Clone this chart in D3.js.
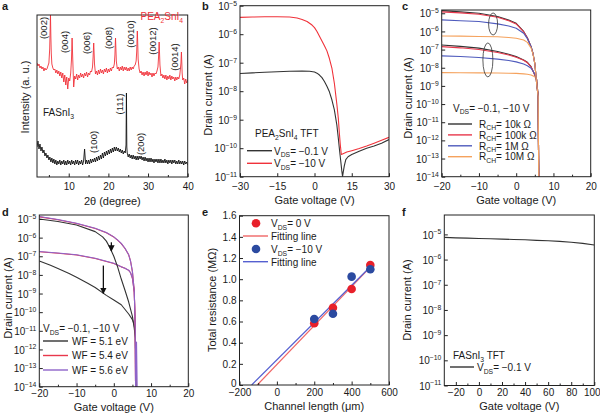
<!DOCTYPE html>
<html><head><meta charset="utf-8">
<script src="https://cdn.jsdelivr.net/npm/d3@7"></script>
<style>
body{margin:0;background:#fff;}
svg{font-family:"Liberation Sans",Arial,sans-serif;}
</style></head><body><svg id="c" width="600" height="413"></svg>
<script>
// ---------------- DATA ----------------
// Panel a: XRD (intensity in arbitrary units), baseline sampled every 0.25 deg from 2 deg
const xrdStart = 2, xrdStep = 0.25;
const redBase = [114,111,113,109,111,108,110,106,109,107,108,111,114,118,117,113,109,107,108,104,107,103,106,101,105,99,104,95,102,92,100,88,99,96,104,110,112,90,101,98,103,97,102,99,104,100,103,99,104,101,105,100,104,102,106,105,110,118,112,103,106,102,107,103,108,104,107,103,108,105,109,104,108,105,109,106,110,109,113,120,114,108,110,106,110,107,111,106,110,107,110,106,109,106,110,107,110,108,111,112,116,122,116,108,104,106,102,105,101,105,102,106,101,105,102,104,100,104,101,104,103,106,110,118,110,101,103,99,102,98,102,97,101,98,102,97,101,98,100,96,100,97,100,98,102,108,106,97,99,93,98,94,97];
const redPeaks = [[5.2,128],[5.3,145],[5.4,162],[5.5,140],[5.6,124],
  [10.7,118],[10.8,132],[10.85,139],[10.95,126],[11.05,114],
  [16.15,120],[16.25,130],[16.3,134],[16.4,124],[16.5,113],
  [21.65,122],[21.75,134],[21.8,139],[21.9,128],[22.0,116],
  [27.15,126],[27.25,140],[27.3,146],[27.4,134],[27.5,118],
  [32.65,120],[32.75,130],[32.8,135],[32.9,124],[33.0,112],
  [38.3,114],[38.38,122],[38.42,125],[38.5,116],[38.6,104]];
const redPeakCenters = [5.4,10.85,16.3,21.8,27.3,32.8,38.42];
const blackBase = [30,36,28,33,26,30,24,27,21,24,19,22,17,20,15,19,14,18,13,17,12,16,13,17,12,16,13,17,12,16,12,17,13,16,12,17,13,16,12,17,13,17,12,16,13,17,12,16,28,13,17,13,17,13,18,14,18,15,19,15,20,16,21,17,22,18,24,19,25,21,26,22,27,23,28,24,29,25,30,26,30,26,29,25,28,24,27,23,26,24,25,24,20,23,19,22,18,22,18,21,17,21,17,21,18,21,17,20,16,20,16,19,15,19,15,19,15,18,14,18,15,18,14,18,14,18,14,17,14,18,14,17,13,17,14,17,13,17,14,17,13,16,13,17,13,16,13,16,12,16,13,15,12];
const blackPeaks = [[24.45,32],[24.55,84],[24.65,30]];
const blackPeakCenters = [24.55];
const peakLabels = ["(002)","(004)","(006)","(008)","(0010)","(0012)","(0014)"];
const peakLabelY = [28,42,43,38,34,41,57];

// Panel b: transfer curves PEA2SnI4 TFT [Vg, Id]
const bLow = [[-30,4.2e-8],[-25,4.4e-8],[-20,4.6e-8],[-15,4.8e-8],[-10,5.0e-8],[-5,5.1e-8],[-2,5.0e-8],[0,4.7e-8],[1,4.3e-8],[2,3.7e-8],[3,3.0e-8],[4,2.2e-8],[5,1.5e-8],[6,9.5e-9],[7,5.0e-9],[8,2.2e-9],[9,6.5e-10],[9.6,2.2e-10],[10,1.0e-10],[10.5,4.0e-11],[11,1.6e-11],[11.3,1.02e-11],[11.6,1.5e-11],[12,2.4e-11],[12.6,4.0e-11],[13.5,5.0e-11],[15,6.0e-11],[18,7.8e-11],[21,1.0e-10],[24,1.2e-10],[27,1.5e-10],[30,2.0e-10]];
const bHigh = [[-30,3.9e-6],[-25,4.0e-6],[-20,4.1e-6],[-15,4.1e-6],[-10,4.0e-6],[-7,3.7e-6],[-5,3.3e-6],[-3,2.8e-6],[-1,2.1e-6],[0,1.7e-6],[1,1.25e-6],[2,8.5e-7],[3,5.8e-7],[4,3.9e-7],[5,2.6e-7],[6,1.4e-7],[7,6.5e-8],[8,1.9e-8],[9,3.5e-9],[9.6,1.1e-9],[10,3.5e-10],[10.4,1.3e-10],[10.8,6.0e-11],[11.5,6.4e-11],[13,7.3e-11],[15,8.2e-11],[18,9.8e-11],[21,1.2e-10],[24,1.5e-10],[27,1.9e-10],[30,2.4e-10]];

// Panel c: simulated curves for channel resistance
const cNames = ["10k","100k","1M","10M"];
const cHigh = [
 [[-20,1.4e-5],[-15,1.2e-5],[-10,1.0e-5],[-5,6.6e-6],[-2,4.2e-6],[0,2.8e-6],[2,1.0e-6],[3,4.5e-7],[4,1.45e-7],[4.5,6.3e-8],[5,1.7e-8],[5.5,1.3e-9],[5.9,2.5e-10],[6.05,5e-15]],
 [[-20,1.2e-5],[-15,1.05e-5],[-10,8.8e-6],[-5,6.0e-6],[-2,3.9e-6],[0,2.6e-6],[2,9.5e-7],[3,4.3e-7],[4,1.4e-7],[4.5,6.1e-8],[5,1.7e-8],[5.5,1.3e-9],[5.9,2.5e-10],[6.05,5e-15]],
 [[-20,4.3e-6],[-15,3.9e-6],[-10,3.5e-6],[-5,2.6e-6],[-2,2.0e-6],[0,1.5e-6],[2,7.9e-7],[3,4.0e-7],[4,1.45e-7],[4.5,6.2e-8],[5,1.7e-8],[5.5,1.3e-9],[5.9,2.5e-10],[6.05,5e-15]],
 [[-20,5.6e-7],[-15,5.5e-7],[-10,5.3e-7],[-5,5.1e-7],[-2,4.6e-7],[0,4.2e-7],[2,3.4e-7],[3,2.5e-7],[4,1.2e-7],[4.5,5.8e-8],[5,1.7e-8],[5.5,1.3e-9],[5.9,2.5e-10],[6.05,5e-15]]];
const cLow = [
 [[-20,1.8e-7],[-15,1.5e-7],[-10,1.2e-7],[-5,7.8e-8],[-2,5.5e-8],[0,4.1e-8],[2,2.7e-8],[3,2.0e-8],[4,1.15e-8],[5,4.0e-9],[5.5,2.1e-9],[5.9,2.5e-10],[6.05,5e-15]],
 [[-20,1.45e-7],[-15,1.25e-7],[-10,1.02e-7],[-5,6.9e-8],[-2,5.0e-8],[0,3.8e-8],[2,2.6e-8],[3,1.9e-8],[4,1.1e-8],[5,4.0e-9],[5.5,2.1e-9],[5.9,2.5e-10],[6.05,5e-15]],
 [[-20,4.5e-8],[-15,4.2e-8],[-10,3.7e-8],[-5,3.0e-8],[-2,2.5e-8],[0,2.1e-8],[2,1.6e-8],[3,1.3e-8],[4,9.3e-9],[5,4.5e-9],[5.5,2.3e-9],[5.9,2.5e-10],[6.05,5e-15]],
 [[-20,5.4e-9],[-15,5.3e-9],[-10,5.2e-9],[-5,5.1e-9],[-2,5.0e-9],[0,4.9e-9],[2,4.6e-9],[3,4.4e-9],[4,4.0e-9],[5,3.2e-9],[5.5,2.1e-9],[5.9,2.5e-10],[6.05,5e-15]]];
const cColors = ["#333333","#e8384c","#4f5bbd","#f5a25d"];

// Panel d: work function
const dNames = ["5.1","5.4","5.6"];
const dHigh = [
 [[-20,1.0e-5],[-15,7.4e-6],[-10,4.8e-6],[-5,2.1e-6],[-3,1.1e-6],[-2,6.5e-7],[-1,2.8e-7],[0,1.0e-7],[1,2.8e-8],[2,6.0e-9],[3,1.5e-9],[4,3.5e-10],[5,6.0e-11],[5.5,1.3e-11],[5.8,4e-12],[5.95,5e-15]],
 [[-20,1.3e-5],[-15,9.2e-6],[-10,5.7e-6],[-5,3.1e-6],[-2,1.85e-6],[0,1.07e-6],[1,7.4e-7],[2,4.8e-7],[3,2.6e-7],[4,1.2e-7],[4.5,5.4e-8],[5,1.5e-8],[5.5,1.3e-9],[5.75,1.5e-11],[5.85,5e-15]],
 [[-20,1.35e-5],[-15,9.5e-6],[-10,5.9e-6],[-5,3.2e-6],[-2,1.9e-6],[0,1.1e-6],[1,7.6e-7],[2,4.9e-7],[3,2.7e-7],[4,1.2e-7],[4.5,5.5e-8],[5,1.5e-8],[5.5,1.3e-9],[5.75,1.5e-11],[5.85,5e-15],[6.1,2.5e-12],[6.3,5e-15]]];
const dLow = [
 [[-20,5.6e-8],[-17,3.3e-8],[-15,2.2e-8],[-12,1.2e-8],[-10,7.5e-9],[-7,3.6e-9],[-5,2.1e-9],[-2,8.0e-10],[0,4.5e-10],[2,2.5e-10],[4,8.0e-11],[5,4.0e-11],[5.5,2.0e-11],[5.8,5e-12],[5.95,5e-15]],
 [[-20,1.75e-7],[-15,1.46e-7],[-10,1.17e-7],[-5,7.6e-8],[-2,5.3e-8],[0,4.1e-8],[2,2.7e-8],[3,2.25e-8],[4,1.75e-8],[4.5,1.3e-8],[5,6.5e-9],[5.5,1.2e-9],[5.75,1.5e-11],[5.85,5e-15]],
 [[-20,1.8e-7],[-15,1.5e-7],[-10,1.2e-7],[-5,7.8e-8],[-2,5.4e-8],[0,4.2e-8],[2,2.75e-8],[3,2.3e-8],[4,1.8e-8],[4.5,1.3e-8],[5,6.5e-9],[5.5,1.2e-9],[5.75,1.5e-11],[5.85,5e-15]]];
const dColors = ["#333333","#e8384c","#8e63c9"];

// Panel e: TLM
const eLength = [200,300,400,500];
const eRes0 = [0.583,0.73,0.907,1.134];
const eRes10 = [0.624,0.674,1.024,1.094];
const eFit0 = [[-105,0],[500,1.114]];
const eFit10 = [[-135,0],[500,1.118]];

// Panel f: FASnI3 TFT
const fCurve = [[-30,7.6e-6],[-20,7.3e-6],[-10,7.1e-6],[0,6.9e-6],[10,6.7e-6],[20,6.5e-6],[30,6.3e-6],[40,6.1e-6],[50,5.8e-6],[60,5.6e-6],[70,5.3e-6],[80,4.9e-6],[90,4.4e-6],[100,3.8e-6]];

// ---------------- DRAWING ----------------
const svg = d3.select("#c");
const TXT = "#1a1a1a";
const FS_TICK = 10, FS_TITLE = 11;

function rich(g, x, y, parts, size) {
  const t = g.append("text").attr("x", x).attr("y", y).attr("fill", TXT).attr("font-size", size || 10);
  let shift = 0;
  parts.forEach(p => {
    const str = typeof p === "string" ? p : p[0];
    const kind = typeof p === "string" ? null : p[1];
    const target = kind === "sub" ? 2.6 : kind === "sup" ? -4.2 : 0;
    const ts = t.append("tspan").attr("dy", target - shift).text(str);
    if (kind) ts.attr("font-size", "0.68em");
    shift = target;
  });
  return t;
}

let clipN = 0;
function panel(x0, x1, y0, y1, bottomRow) {
  const id = "cl" + (clipN++);
  svg.append("clipPath").attr("id", id).append("rect").attr("x", x0).attr("y", y0).attr("width", x1 - x0).attr("height", y1 - y0);
  const g = svg.append("g");
  const plot = g.append("g").attr("clip-path", `url(#${id})`);
  return {g, plot, x0, x1, y0, y1, pad: bottomRow ? 3.5 : 6, tdy: bottomRow ? 24.6 : 27.5};
}
function frame(P) {
  P.g.append("rect").attr("x", P.x0).attr("y", P.y0).attr("width", P.x1 - P.x0).attr("height", P.y1 - P.y0)
    .attr("fill", "none").attr("stroke", "#222").attr("stroke-width", 1);
}
function styleAxis(g) {
  g.selectAll(".domain").remove();
  g.attr("font-family", null).attr("font-size", FS_TICK);
  g.selectAll(".tick line").attr("stroke", "#222");
  g.selectAll(".tick text").attr("fill", TXT);
}
function xAxis(P, scale, major, minor, fmt) {
  const g = P.g.append("g").attr("transform", `translate(0,${P.y1})`);
  g.call(d3.axisBottom(scale).tickValues(major).tickSize(-3.5).tickPadding(P.pad).tickFormat(fmt || d3.format("")));
  styleAxis(g);
  if (minor) {
    const m = P.g.append("g").attr("transform", `translate(0,${P.y1})`);
    m.call(d3.axisBottom(scale).tickValues(minor).tickSize(-2).tickFormat(""));
    styleAxis(m);
  }
  return g;
}
function yLinAxis(P, scale, major, fmt) {
  const g = P.g.append("g").attr("transform", `translate(${P.x0},0)`);
  g.call(d3.axisLeft(scale).tickValues(major).tickSize(-3.5).tickPadding(3).tickFormat(fmt));
  styleAxis(g);
  return g;
}
function yLogAxis(P, scale, exps) {
  const g = P.g.append("g").attr("transform", `translate(${P.x0},0)`);
  g.call(d3.axisLeft(scale).tickValues(exps.map(e => Math.pow(10, e))).tickSize(-3.5).tickFormat(""));
  styleAxis(g);
  g.selectAll(".tick").each(function(d) {
    const e = Math.round(Math.log10(d));
    rich(d3.select(this), -3, 3.6, ["10", [(e < 0 ? "−" : "") + Math.abs(e), "sup"]], FS_TICK).attr("text-anchor", "end");
  });
}
function xTitle(P, parts) {
  rich(P.g, (P.x0 + P.x1) / 2, P.y1 + P.tdy, parts, FS_TITLE).attr("text-anchor", "middle");
}
function yTitle(P, x, y, text) {
  P.g.append("text").attr("transform", `translate(${x},${y}) rotate(-90)`).attr("text-anchor", "middle")
    .attr("dy", "0.35em").attr("font-size", FS_TITLE).attr("fill", TXT).text(text);
}
function letter(x, y, t) {
  svg.append("text").attr("x", x).attr("y", y).attr("font-size", 11).attr("font-weight", "bold").attr("fill", TXT).text(t);
}
function drawLine(P, data, x, y, color, w) {
  P.plot.append("path").datum(data).attr("fill", "none").attr("stroke", color).attr("stroke-width", w || 1.2)
    .attr("stroke-linejoin", "round").attr("d", d3.line().x(d => x(d[0])).y(d => y(d[1])));
}
function legLine(P, x0, x1, y, color) {
  P.g.append("line").attr("x1", x0).attr("x2", x1).attr("y1", y).attr("y2", y).attr("stroke", color).attr("stroke-width", 1.4);
}
function merge(base, peaks, centers, halfW) {
  const pts = base.map((v, i) => [xrdStart + i * xrdStep, v])
    .filter(p => centers.every(c => Math.abs(p[0] - c) >= halfW));
  return pts.concat(peaks).sort((a, b) => a[0] - b[0]);
}

// ===== Panel a =====
{
  const P = panel(37, 187.7, 15, 177);
  const x = d3.scaleLinear([2, 40], [37, 187.7]);
  const y = d3.scaleLinear([0, 162], [177, 15]);
  drawLine(P, merge(redBase, redPeaks, redPeakCenters, 0.22), x, y, "#f0323a", 0.9);
  drawLine(P, merge(blackBase, blackPeaks, blackPeakCenters, 0.12), x, y, "#111", 0.9);
  frame(P);
  xAxis(P, x, [10, 20, 30, 40], [5, 15, 25, 35]);
  xTitle(P, ["2θ (degree)"]);
  yTitle(P, 25, 97, "Intensity (a. u.)");
  peakLabels.forEach((l, i) => {
    P.g.append("text").attr("transform", `translate(${x(redPeakCenters[i] - 1.75)},${peakLabelY[i]}) rotate(-90)`)
      .attr("text-anchor", "middle").attr("dy", "0.35em").attr("font-size", 9.5).attr("fill", TXT).text(l);
  });
  rich(P.g, 140.5, 20, ["PEA", ["2", "sub"], "SnI", ["4", "sub"]], 10).attr("fill", "#f0323a");
  rich(P.g, 43, 116, ["FASnI", ["3", "sub"]], 10);
  [["(111)", 22.8, 104], ["(100)", 16.2, 142], ["(200)", 28.2, 144]].forEach(a => {
    P.g.append("text").attr("transform", `translate(${x(a[1])},${a[2]}) rotate(-90)`)
      .attr("text-anchor", "middle").attr("dy", "0.35em").attr("font-size", 9.5).attr("fill", TXT).text(a[0]);
  });
  letter(2, 10, "a");
}

// ===== Panel b =====
{
  const P = panel(240, 389, 5.7, 176.7);
  const x = d3.scaleLinear([-30, 30], [240, 389]);
  const y = d3.scaleLog([1e-11, 1e-5], [176.7, 5.7]);
  drawLine(P, bLow, x, y, "#333", 1.1);
  drawLine(P, bHigh, x, y, "#f0323a", 1.1);
  frame(P);
  xAxis(P, x, [-30, -15, 0, 15, 30]);
  yLogAxis(P, y, [-11, -10, -9, -8, -7, -6, -5]);
  xTitle(P, ["Gate voltage (V)"]);
  yTitle(P, 208, 95, "Drain current (A)");
  rich(P.g, 255, 137, ["PEA", ["2", "sub"], "SnI", ["4", "sub"], " TFT"], 10);
  legLine(P, 247, 272, 150.7, "#333");
  rich(P.g, 274, 154.5, ["V", ["DS", "sub"], "= −0.1 V"], 10);
  legLine(P, 247, 272, 163.3, "#f0323a");
  rich(P.g, 274, 167, ["V", ["DS", "sub"], "= −10 V"], 10);
  letter(202, 10, "b");
}

// ===== Panel c =====
{
  const P = panel(441.7, 590.7, 10, 176.7);
  const x = d3.scaleLinear([-20, 20], [441.7, 590.7]);
  const y = d3.scaleLog([1e-14, Math.pow(10, -4.82)], [176.7, 10]);
  for (let i = 0; i < 4; i++) drawLine(P, cLow[i], x, y, cColors[i], 1.1);
  for (let i = 0; i < 4; i++) drawLine(P, cHigh[i], x, y, cColors[i], 1.1);
  [[-6.2, Math.pow(10, -5.59), 4.5, 11], [-7.6, Math.pow(10, -7.57), 5, 17]].forEach(e => {
    P.g.append("ellipse").attr("cx", x(e[0])).attr("cy", y(e[1])).attr("rx", e[2]).attr("ry", e[3])
      .attr("fill", "none").attr("stroke", "#333").attr("stroke-width", 0.8);
  });
  frame(P);
  xAxis(P, x, [-20, -10, 0, 10, 20], [-15, -5, 5, 15]);
  yLogAxis(P, y, [-14, -13, -12, -11, -10, -9, -8, -7, -6, -5]);
  xTitle(P, ["Gate voltage (V)"]);
  yTitle(P, 408, 98, "Drain current (A)");
  rich(P.g, 453, 111.5, ["V", ["DS", "sub"], "= −0.1, −10 V"], 10);
  cNames.forEach((n, i) => {
    const yy = 124 + i * 10.9;
    legLine(P, 448, 472, yy, cColors[i]);
    rich(P.g, 479, yy + 3.7, ["R", ["CH", "sub"], "= " + n + " Ω"], 10);
  });
  letter(402, 10, "c");
}

// ===== Panel d =====
{
  const P = panel(39.3, 188.3, 215, 386.7, true);
  const x = d3.scaleLinear([-20, 20], [39.3, 188.3]);
  const y = d3.scaleLog([1e-14, Math.pow(10, -4.785)], [386.7, 215]);
  for (let i = 0; i < 3; i++) drawLine(P, dLow[i], x, y, dColors[i], 1.1);
  for (let i = 0; i < 3; i++) drawLine(P, dHigh[i], x, y, dColors[i], 1.1);
  frame(P);
  xAxis(P, x, [-20, -10, 0, 10, 20], [-15, -5, 5, 15]);
  yLogAxis(P, y, [-14, -13, -12, -11, -10, -9, -8, -7, -6, -5]);
  xTitle(P, ["Gate voltage (V)"]);
  yTitle(P, 8, 298, "Drain current (A)");
  const defs = svg.append("defs");
  defs.append("marker").attr("id", "ah").attr("viewBox", "0 0 10 10").attr("refX", 9).attr("refY", 5)
    .attr("markerWidth", 5).attr("markerHeight", 6).attr("orient", "auto")
    .append("path").attr("d", "M0,0 L10,5 L0,10 z").attr("fill", "#111");
  [[-0.65, Math.pow(10, -6.25), Math.pow(10, -6.72)], [-2.8, Math.pow(10, -7.5), Math.pow(10, -9.0)]].forEach(a => {
    P.g.append("line").attr("x1", x(a[0])).attr("x2", x(a[0])).attr("y1", y(a[1])).attr("y2", y(a[2]))
      .attr("stroke", "#111").attr("stroke-width", 1.3).attr("marker-end", "url(#ah)");
  });
  rich(P.g, 43, 332, ["V", ["DS", "sub"], "= −0.1, −10 V"], 10);
  dNames.forEach((n, i) => {
    const yy = 341 + i * 14.5;
    legLine(P, 43, 68, yy, dColors[i]);
    rich(P.g, 72, yy + 3.7, ["WF = " + n + " eV"], 10);
  });
  letter(2, 216, "d");
}

// ===== Panel e =====
{
  const P = panel(239.5, 389, 215.7, 385, true);
  const x = d3.scaleLinear([-200, 600], [239.5, 389]);
  const y = d3.scaleLinear([0, 1.6], [385, 215.7]);
  drawLine(P, eFit0, x, y, "#f06666", 1.2);
  drawLine(P, eFit10, x, y, "#5560d0", 1.2);
  eLength.forEach((L, i) => {
    P.g.append("circle").attr("cx", x(L)).attr("cy", y(eRes0[i])).attr("r", 4.3).attr("fill", "#e8202a");
  });
  eLength.forEach((L, i) => {
    P.g.append("circle").attr("cx", x(L)).attr("cy", y(eRes10[i])).attr("r", 4.3).attr("fill", "#2b4aa0");
  });
  frame(P);
  xAxis(P, x, [-200, 0, 200, 400, 600], [-100, 100, 300, 500]);
  const ya = yLinAxis(P, y, [0, 0.2, 0.4, 0.6, 0.8, 1.0, 1.2, 1.4, 1.6], d => d === 0 ? "0" : d3.format(".1f")(d));
  ya.selectAll(".tick text").filter(d => d === 0).attr("y", -2);
  xTitle(P, ["Channel length (μm)"]);
  yTitle(P, 212, 300, "Total resistance (MΩ)");
  P.g.append("circle").attr("cx", 256).attr("cy", 223.3).attr("r", 4.3).attr("fill", "#e8202a");
  rich(P.g, 271, 227, ["V", ["DS", "sub"], "= 0 V"], 10);
  legLine(P, 243, 268, 236, "#f06666");
  rich(P.g, 271, 240, ["Fitting line"], 10);
  P.g.append("circle").attr("cx", 256).attr("cy", 249).attr("r", 4.3).attr("fill", "#2b4aa0");
  rich(P.g, 271, 253, ["V", ["DS", "sub"], "= −10 V"], 10);
  legLine(P, 243, 268, 261.7, "#5560d0");
  rich(P.g, 271, 265.5, ["Fitting line"], 10);
  letter(202, 216, "e");
}

// ===== Panel f =====
{
  const P = panel(444.3, 594.3, 215, 385.5, true);
  const x = d3.scaleLinear([-30, 100], [444.3, 594.3]);
  const y = d3.scaleLog([1e-11, Math.pow(10, -4.23)], [385.5, 215]);
  drawLine(P, fCurve, x, y, "#333", 1.1);
  frame(P);
  const ax = xAxis(P, x, [-20, 0, 20, 40, 60, 80, 100], [-10, 10, 30, 50, 70, 90]);
  ax.selectAll(".tick text").filter(d => d === 100).attr("dx", -2.5);
  yLogAxis(P, y, [-11, -10, -9, -8, -7, -6, -5]);
  xTitle(P, ["Gate voltage (V)"]);
  yTitle(P, 407, 300, "Drain current (A)");
  rich(P.g, 453, 359, ["FASnI", ["3", "sub"], " TFT"], 10);
  legLine(P, 450, 474, 367, "#333");
  rich(P.g, 477, 371, ["V", ["DS", "sub"], "= −0.1 V"], 10);
  letter(402, 216, "f");
}
</script></body></html>
